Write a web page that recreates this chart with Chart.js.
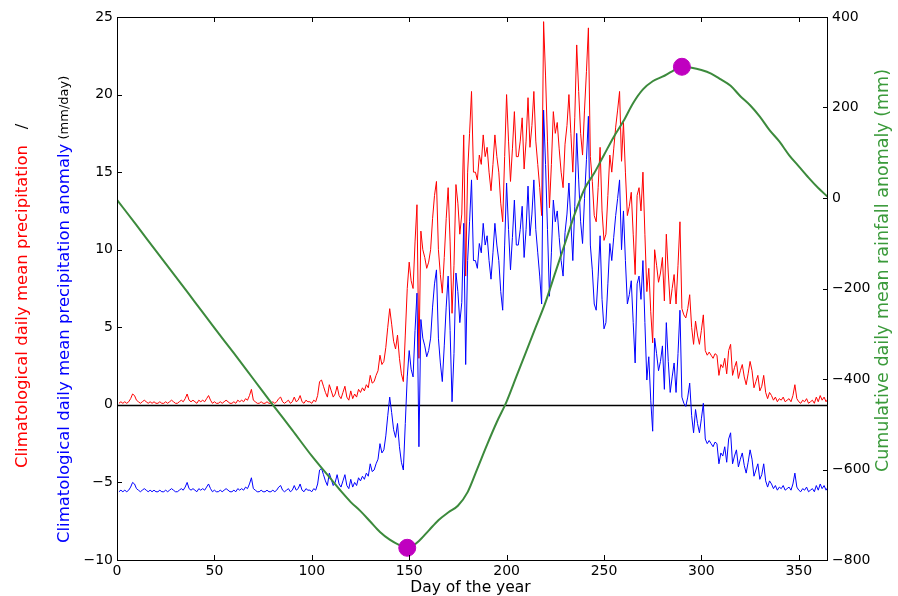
<!DOCTYPE html>
<html>
<head>
<meta charset="utf-8">
<script src="https://cdn.jsdelivr.net/npm/chart.js@4.4.1/dist/chart.umd.min.js"></script>
<style>
  html, body { margin: 0; padding: 0; background: #fff; }
  canvas { display: block; }
</style>
</head>
<body>
<canvas id="chart" width="898" height="596"></canvas>
<script>
// climatological daily mean precipitation (mm/day), day 1..365
const rainfall = [
  0.1, 0.2, 0.1, 0.2, 0.1, 0.2, 0.4, 0.7, 0.6, 0.3,
  0.2, 0.1, 0.2, 0.3, 0.2, 0.1, 0.2, 0.1, 0.2, 0.1,
  0.1, 0.2, 0.1, 0.1, 0.2, 0.1, 0.2, 0.3, 0.2, 0.1,
  0.1, 0.2, 0.3, 0.2, 0.4, 0.7, 0.3, 0.2, 0.3, 0.2,
  0.1, 0.3, 0.2, 0.3, 0.2, 0.4, 0.6, 0.3, 0.1, 0.2,
  0.1, 0.1, 0.2, 0.1, 0.2, 0.3, 0.2, 0.1, 0.1, 0.2,
  0.1, 0.3, 0.2, 0.3, 0.2, 0.4, 0.3, 0.6, 1.0, 0.3,
  0.2, 0.1, 0.1, 0.2, 0.1, 0.1, 0.2, 0.1, 0.1, 0.2,
  0.1, 0.2, 0.4, 0.5, 0.2, 0.1, 0.2, 0.3, 0.1, 0.2,
  0.5, 0.2, 0.3, 0.6, 0.2, 0.1, 0.3, 0.2, 0.2, 0.1,
  0.3, 0.2, 0.6, 1.5, 1.6, 1.2, 0.8, 0.5, 1.3, 0.9,
  0.5, 0.7, 1.2, 0.6, 0.4, 0.8, 1.2, 0.5, 0.3, 0.9,
  0.4, 0.7, 0.5, 1.0, 0.8, 1.1, 0.9, 1.3, 1.1, 1.9,
  1.4, 1.5, 1.9, 2.2, 3.2, 2.6, 2.8, 3.7, 5.0, 6.2,
  5.2, 4.1, 3.6, 4.5, 3.0, 2.0, 1.5, 4.5, 7.5, 9.2,
  8.0, 7.5, 10.5, 12.9, 3.0, 11.2, 10.0, 9.5, 8.8, 9.2,
  10.0, 12.0, 13.5, 14.4, 10.0, 8.4, 7.2, 9.5, 12.0, 14.0,
  10.5, 5.9, 9.0, 14.2, 13.0, 11.0, 12.3, 17.4, 8.3, 15.0,
  17.5, 20.2, 15.0, 15.0, 14.5, 16.1, 15.5, 17.4, 16.0, 16.6,
  15.0, 13.8, 15.5, 17.4, 16.0, 15.0, 13.0, 11.8, 16.0, 20.0,
  17.0, 14.4, 16.5, 18.9, 16.0, 16.0, 17.0, 18.5, 15.2, 17.0,
  19.8, 16.6, 18.0, 20.2, 17.0, 15.5, 14.0, 12.2, 24.7, 21.2,
  17.0, 12.7, 15.5, 18.9, 17.5, 18.2, 16.5, 15.0, 14.0, 16.8,
  18.0, 20.0, 17.5, 15.0, 18.5, 23.2, 20.2, 17.5, 16.1, 19.0,
  21.5, 24.3, 16.0, 14.4, 12.2, 11.8, 14.0, 16.6, 12.5, 10.6,
  11.0, 13.5, 16.1, 15.0, 16.5, 17.9, 19.0, 20.2, 15.7, 18.2,
  15.0, 12.2, 12.8, 13.7, 11.0, 8.4, 13.5, 14.0, 12.5, 15.0,
  11.0, 7.3, 8.8, 6.0, 4.0, 10.0, 9.0, 7.9, 8.5, 9.5,
  6.7, 11.0, 8.5, 6.5, 7.5, 8.4, 6.5, 9.0, 11.8, 6.2,
  5.8, 5.6, 6.2, 7.1, 5.0, 3.9, 5.4, 4.5, 3.9, 4.8,
  5.8, 3.5, 3.2, 3.4, 3.2, 3.0, 3.3, 3.2, 1.9, 2.6,
  2.4, 3.0, 2.0, 3.5, 3.9, 1.9, 2.4, 2.8, 1.7, 2.2,
  2.6, 1.8, 1.3, 2.0, 2.8, 2.2, 1.1, 1.5, 1.9, 0.9,
  1.2, 1.9, 0.8, 0.4, 0.8, 0.6, 0.3, 0.5, 0.2, 0.4,
  0.3, 0.5, 0.2, 0.3, 0.4, 0.2, 0.6, 1.3, 0.4, 0.2,
  0.1, 0.3, 0.2, 0.4, 0.1, 0.2, 0.3, 0.1, 0.5, 0.2,
  0.6, 0.3, 0.5, 0.2, 0.4
];

// climatological daily mean precipitation anomaly (mm/day), day 1..365
const anomaly = [
  -5.6, -5.5, -5.6, -5.5, -5.6, -5.5, -5.3, -5.0, -5.1, -5.4,
  -5.5, -5.6, -5.5, -5.4, -5.5, -5.6, -5.5, -5.6, -5.5, -5.6,
  -5.6, -5.5, -5.6, -5.6, -5.5, -5.6, -5.5, -5.4, -5.5, -5.6,
  -5.6, -5.5, -5.4, -5.5, -5.3, -5.0, -5.4, -5.5, -5.4, -5.5,
  -5.6, -5.4, -5.5, -5.4, -5.5, -5.3, -5.1, -5.4, -5.6, -5.5,
  -5.6, -5.6, -5.5, -5.6, -5.5, -5.4, -5.5, -5.6, -5.6, -5.5,
  -5.6, -5.4, -5.5, -5.4, -5.5, -5.3, -5.4, -5.1, -4.7, -5.4,
  -5.5, -5.6, -5.6, -5.5, -5.6, -5.6, -5.5, -5.6, -5.6, -5.5,
  -5.6, -5.5, -5.3, -5.2, -5.5, -5.6, -5.5, -5.4, -5.6, -5.5,
  -5.2, -5.5, -5.4, -5.1, -5.5, -5.6, -5.4, -5.5, -5.5, -5.6,
  -5.4, -5.5, -5.1, -4.2, -4.1, -4.5, -4.9, -5.2, -4.4, -4.8,
  -5.2, -5.0, -4.5, -5.1, -5.3, -4.9, -4.5, -5.2, -5.4, -4.8,
  -5.3, -5.0, -5.2, -4.7, -4.9, -4.6, -4.8, -4.4, -4.6, -3.8,
  -4.3, -4.2, -3.8, -3.5, -2.5, -3.1, -2.9, -2.0, -0.7, 0.5,
  -0.5, -1.6, -2.1, -1.2, -2.7, -3.7, -4.2, -1.2, 1.8, 3.5,
  2.3, 1.8, 4.8, 7.2, -2.7, 5.5, 4.3, 3.8, 3.1, 3.5,
  4.3, 6.3, 7.8, 8.7, 4.3, 2.7, 1.5, 3.8, 6.3, 8.3,
  4.8, 0.2, 3.3, 8.5, 7.3, 5.3, 6.6, 11.7, 2.6, 9.3,
  11.8, 14.5, 9.3, 9.3, 8.8, 10.4, 9.8, 11.7, 10.3, 10.9,
  9.3, 8.1, 9.8, 11.7, 10.3, 9.3, 7.3, 6.1, 10.3, 14.3,
  11.3, 8.7, 10.8, 13.2, 10.3, 10.3, 11.3, 12.8, 9.5, 11.3,
  14.1, 10.9, 12.3, 14.5, 11.3, 9.8, 8.3, 6.5, 19.0, 15.5,
  11.3, 7.0, 9.8, 13.2, 11.8, 12.5, 10.8, 9.3, 8.3, 11.1,
  12.3, 14.3, 11.8, 9.3, 12.8, 17.5, 14.5, 11.8, 10.4, 13.3,
  15.8, 18.6, 10.3, 8.7, 6.5, 6.1, 8.3, 10.9, 6.8, 4.9,
  5.3, 7.8, 10.4, 9.3, 10.8, 12.2, 13.3, 14.5, 10.0, 12.5,
  9.3, 6.5, 7.1, 8.0, 5.3, 2.7, 7.8, 8.3, 6.8, 9.3,
  5.3, 1.6, 3.1, 0.3, -1.7, 4.3, 3.3, 2.2, 2.8, 3.8,
  1.0, 5.3, 2.8, 0.8, 1.8, 2.7, 0.8, 3.3, 6.1, 0.5,
  0.1, -0.1, 0.5, 1.4, -0.7, -1.8, -0.3, -1.2, -1.8, -0.9,
  0.1, -2.2, -2.5, -2.3, -2.5, -2.7, -2.4, -2.5, -3.8, -3.1,
  -3.3, -2.7, -3.7, -2.2, -1.8, -3.8, -3.3, -2.9, -4.0, -3.5,
  -3.1, -3.9, -4.4, -3.7, -2.9, -3.5, -4.6, -4.2, -3.8, -4.8,
  -4.5, -3.8, -4.9, -5.3, -4.9, -5.1, -5.4, -5.2, -5.5, -5.3,
  -5.4, -5.2, -5.5, -5.4, -5.3, -5.5, -5.1, -4.4, -5.3, -5.5,
  -5.6, -5.4, -5.5, -5.3, -5.6, -5.5, -5.4, -5.6, -5.2, -5.5,
  -5.1, -5.4, -5.2, -5.5, -5.3
];

// cumulative daily mean rainfall anomaly (mm)
const cumDays = [0, 10, 20, 30, 40, 50, 60, 70, 80, 90, 100, 110, 115, 120, 125, 130, 135, 140, 145, 149,
  152, 155, 160, 165, 170, 175, 180, 185, 190, 195, 200, 205, 210, 215, 220, 225, 230, 235, 240, 245,
  250, 255, 260, 265, 270, 275, 280, 285, 290, 295, 300, 305, 310, 315, 320, 325, 330, 335, 340, 345,
  350, 355, 360, 365];
const cumAnomaly = [-4, -60, -117, -173, -230, -287, -343, -400, -457, -513, -570, -622, -648, -672, -692, -715, -738, -755, -767, -773,
  -768, -758, -735, -712, -695, -680, -650, -598, -545, -495, -450, -395, -340, -285, -230, -165, -100, -35, 20, 55,
  95, 135, 170, 210, 240, 258, 268, 280, 290, 288, 283, 275, 262, 248, 225, 205, 180, 150, 125, 95,
  70, 45, 22, 2];

const xTicks = [0, 50, 100, 150, 200, 250, 300, 350];
const leftTicks = [-10, -5, 0, 5, 10, 15, 20, 25];
const rightTicks = [-800, -600, -400, -200, 0, 200, 400];

const RED = "#ff0000";
const BLUE = "#0000ff";
const GREEN = "#3c8a3c";
const MAGENTA = "#c000c0";

// min and max of the cumulative curve get the magenta dots
const iMin = cumAnomaly.indexOf(Math.min(...cumAnomaly));
const iMax = cumAnomaly.indexOf(Math.max(...cumAnomaly));

const minus = (v) => String(v).replace("-", "\u2212");

// rotated text made of coloured pieces, read bottom to top
function drawVertical(ctx, x, y, pieces) {
  ctx.save();
  ctx.translate(x, y);
  ctx.rotate(-Math.PI / 2);
  ctx.textBaseline = "middle";
  ctx.textAlign = "left";
  let off = 0;
  pieces.forEach((p) => {
    ctx.font = p.font;
    ctx.fillStyle = p.color;
    ctx.fillText(p.text, off, 0);
    off += ctx.measureText(p.text).width;
  });
  ctx.restore();
}

const axesDecor = {
  id: "axesDecor",
  beforeDatasetsDraw(chart) {
    const { ctx, chartArea: a, scales } = chart;
    const y0 = Math.round(scales.y.getPixelForValue(0)) + 0.5;
    ctx.save();
    ctx.strokeStyle = "#000";
    ctx.lineWidth = 1.5;
    ctx.beginPath();
    ctx.moveTo(a.left, y0);
    ctx.lineTo(a.right, y0);
    ctx.stroke();
    ctx.restore();
  },
  afterDatasetsDraw(chart) {
    const { ctx, chartArea: a, scales } = chart;
    const tl = 5;
    ctx.save();
    ctx.strokeStyle = "#000";
    ctx.lineWidth = 1;
    ctx.strokeRect(a.left + 0.5, a.top + 0.5, a.right - a.left - 1, a.bottom - a.top);
    ctx.beginPath();
    xTicks.forEach((v) => {
      const px = Math.round(scales.x.getPixelForValue(v)) + 0.5;
      ctx.moveTo(px, a.bottom);
      ctx.lineTo(px, a.bottom - tl);
      ctx.moveTo(px, a.top);
      ctx.lineTo(px, a.top + tl);
    });
    leftTicks.forEach((v) => {
      const py = Math.round(scales.y.getPixelForValue(v)) + 0.5;
      ctx.moveTo(a.left, py);
      ctx.lineTo(a.left + tl, py);
    });
    rightTicks.forEach((v) => {
      const py = Math.round(scales.y2.getPixelForValue(v)) + 0.5;
      ctx.moveTo(a.right, py);
      ctx.lineTo(a.right - tl, py);
    });
    ctx.stroke();
    ctx.restore();
  },
  afterDraw(chart) {
    const { ctx, chartArea: a } = chart;
    const f = "16.5px 'DejaVu Sans'";
    drawVertical(ctx, 23, 468, [
      { text: "Climatological daily mean precipitation", color: RED, font: f },
      { text: "   /", color: "#000", font: f },
    ]);
    drawVertical(ctx, 65, 543, [
      { text: "Climatological daily mean precipitation anomaly", color: BLUE, font: f },
      { text: " (mm/day)", color: "#000", font: "13px 'DejaVu Sans'" },
    ]);
    drawVertical(ctx, 883, 472, [
      { text: "Cumulative daily mean rainfall anomaly (mm)", color: "#3a9a3a", font: "17.5px 'DejaVu Sans'" },
    ]);
    ctx.save();
    ctx.font = "15.5px 'DejaVu Sans'";
    ctx.fillStyle = "#000";
    ctx.textAlign = "center";
    ctx.textBaseline = "middle";
    ctx.fillText("Day of the year", (a.left + a.right) / 2 - 2, 588);
    ctx.restore();
  },
};

Chart.defaults.font.family = "'DejaVu Sans'";
Chart.defaults.font.size = 14;
Chart.defaults.color = "#000";

new Chart(document.getElementById("chart").getContext("2d"), {
  type: "line",
  data: {
    datasets: [
      {
        label: "extremes",
        yAxisID: "y2",
        data: [
          { x: cumDays[iMin], y: cumAnomaly[iMin] },
          { x: cumDays[iMax], y: cumAnomaly[iMax] },
        ],
        showLine: false,
        pointRadius: 8.5,
        pointBackgroundColor: MAGENTA,
        pointBorderColor: MAGENTA,
      },
      {
        label: "Cumulative daily mean rainfall anomaly",
        yAxisID: "y2",
        data: cumDays.map((d, i) => ({ x: d, y: cumAnomaly[i] })),
        borderColor: GREEN,
        borderWidth: 2,
        pointRadius: 0,
        cubicInterpolationMode: "monotone",
      },
      {
        label: "Climatological daily mean precipitation anomaly",
        yAxisID: "y",
        data: anomaly.map((v, i) => ({ x: i + 1, y: v })),
        borderColor: BLUE,
        borderWidth: 1,
        pointRadius: 0,
        tension: 0,
      },
      {
        label: "Climatological daily mean precipitation",
        yAxisID: "y",
        data: rainfall.map((v, i) => ({ x: i + 1, y: v })),
        borderColor: RED,
        borderWidth: 1,
        pointRadius: 0,
        tension: 0,
      },
    ],
  },
  options: {
    responsive: false,
    animation: false,
    devicePixelRatio: 1,
    layout: { padding: { top: 17, left: 0, right: 0, bottom: 0 } },
    plugins: { legend: { display: false }, tooltip: { enabled: false } },
    scales: {
      x: {
        type: "linear",
        min: 0,
        max: 365,
        grid: { display: false, drawTicks: false },
        border: { display: false },
        ticks: { padding: 3, maxRotation: 0, callback: (v) => minus(v) },
        afterBuildTicks: (s) => { s.ticks = xTicks.map((v) => ({ value: v })); },
        afterFit: (s) => { s.height = 36; },
      },
      y: {
        position: "left",
        min: -10,
        max: 25,
        grid: { display: false, drawTicks: false },
        border: { display: false },
        ticks: { padding: 4, callback: (v) => minus(v) },
        afterBuildTicks: (s) => { s.ticks = leftTicks.map((v) => ({ value: v })); },
        afterFit: (s) => { s.width = 117; },
      },
      y2: {
        position: "right",
        min: -800,
        max: 400,
        grid: { display: false, drawTicks: false },
        border: { display: false },
        ticks: { padding: 4, callback: (v) => minus(v) },
        afterBuildTicks: (s) => { s.ticks = rightTicks.map((v) => ({ value: v })); },
        afterFit: (s) => { s.width = 70; },
      },
    },
  },
  plugins: [axesDecor],
});
</script>
</body>
</html>
